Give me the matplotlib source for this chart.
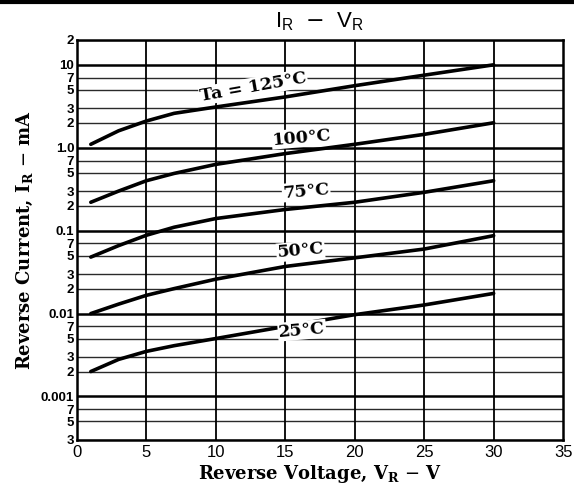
import matplotlib.pyplot as plt
import numpy as np

# reverse current vs reverse voltage, one curve per ambient temperature
volts = [1, 3, 5, 7, 10, 15, 20, 25, 30]
ir_125 = [1.1, 1.6, 2.1, 2.6, 3.1, 4.1, 5.6, 7.5, 10.0]
ir_100 = [0.22, 0.30, 0.40, 0.49, 0.63, 0.85, 1.1, 1.45, 2.0]
ir_75 = [0.048, 0.066, 0.088, 0.11, 0.14, 0.18, 0.22, 0.29, 0.40]
ir_50 = [0.010, 0.013, 0.0166, 0.020, 0.026, 0.037, 0.047, 0.060, 0.087]
ir_25 = [0.0020, 0.0028, 0.0035, 0.0041, 0.0050, 0.0070, 0.0097, 0.0127, 0.0175]

curve_labels = ['Ta = 125°C', '100°C', '75°C', '50°C', '25°C']
label_x = [12.7, 16.2, 16.5, 16.1, 16.2]
label_y = [5.4, 1.32, 0.30, 0.057, 0.0063]
label_rot = [10, 5, 5, 5, 5]

x_ticks = [0, 5, 10, 15, 20, 25, 30, 35]
y_ticks = [20, 10, 7, 5, 3, 2, 1.0, 0.7, 0.5, 0.3, 0.2, 0.1, 0.07, 0.05, 0.03, 0.02,
           0.01, 0.007, 0.005, 0.003, 0.002, 0.001, 0.0007, 0.0005, 0.0003]
y_tick_labels = ['2', '10', '7', '5', '3', '2', '1.0', '7', '5', '3', '2', '0.1', '7', '5', '3', '2',
                 '0.01', '7', '5', '3', '2', '0.001', '7', '5', '3']
decades = [10, 1.0, 0.1, 0.01, 0.001]

serif = 'DejaVu Serif'
sans = 'Liberation Sans'

fig = plt.figure(figsize=(5.74, 4.92), dpi=100)
ax = fig.add_axes([0.134, 0.106, 0.847, 0.813])
ax.set_yscale('log')
ax.set_xlim(0, 35)
ax.set_ylim(3e-4, 20)

# grid: heavy lines at decades, lighter at 2/3/5/7
for v in y_ticks:
    if v in decades:
        ax.axhline(v, color='black', lw=1.8, zorder=1)
    else:
        ax.axhline(v, color='#2a2a2a', lw=1.0, zorder=1)
for x in x_ticks[1:-1]:
    ax.axvline(x, color='black', lw=1.3, zorder=1)

for ir in [ir_125, ir_100, ir_75, ir_50, ir_25]:
    ax.plot(volts, ir, color='black', lw=2.6, solid_capstyle='round', zorder=3)

for text, lx, ly, rot in zip(curve_labels, label_x, label_y, label_rot):
    ax.text(lx, ly, text, fontsize=12.5, family=serif, fontweight='bold', rotation=rot,
            ha='center', va='center', zorder=4,
            bbox=dict(boxstyle='square,pad=0.05', fc='white', ec='none'))

ax.set_xticks(x_ticks)
ax.set_xticklabels([str(x) for x in x_ticks], family=sans, fontsize=12)
ax.set_yticks(y_ticks)
ax.set_yticklabels(y_tick_labels, family=sans, fontsize=9.5, fontweight='bold')
ax.yaxis.set_minor_locator(plt.NullLocator())
ax.tick_params(length=0, pad=2)
ax.tick_params(axis='x', pad=4)
for sp in ax.spines.values():
    sp.set_linewidth(1.8)

ax.set_xlabel(r'Reverse Voltage, V$_\mathregular{R}$ $-$ V', family=serif,
              fontsize=13, fontweight='bold', labelpad=2)
ax.set_ylabel(r'Reverse Current, I$_\mathregular{R}$ $-$ mA', family=serif,
              fontsize=13, fontweight='bold', labelpad=4)
ax.set_title(r'I$_\mathregular{R}$  $-$  V$_\mathregular{R}$', family=sans, fontsize=16, pad=9)

# dark rule across the top edge of the sheet
fig.add_artist(plt.Line2D([0, 1], [0.996, 0.996], color='black', lw=3, transform=fig.transFigure))

fig.savefig('out.png', dpi=100)
